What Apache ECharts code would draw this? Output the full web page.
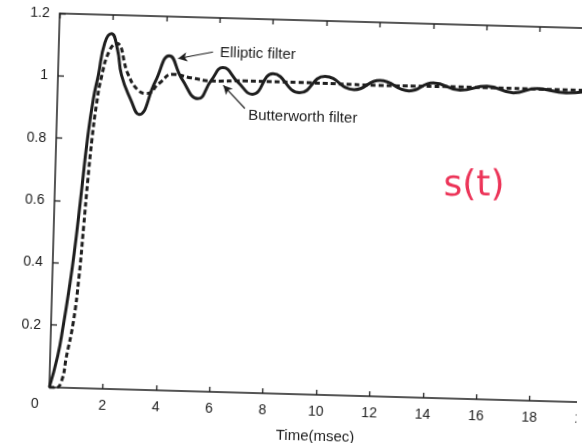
<!DOCTYPE html>
<html>
<head>
<meta charset="utf-8">
<script src="https://cdn.jsdelivr.net/npm/echarts@6.0.0/dist/echarts.min.js"></script>
<style>
  html, body { margin: 0; padding: 0; background: #fff; overflow: hidden; }
  /* the scanned page sits slightly tilted */
  #chart { width: 582px; height: 443px; transform: rotate(1.6deg); transform-origin: 50% 50%; }
</style>
</head>
<body>
<div id="chart"></div>
<script>
// step response (time in msec)
var ellipticT = [0, 0.28, 0.46, 0.63, 0.79, 0.97, 1.17, 1.35, 1.51, 1.72, 1.96, 2.20, 2.38, 2.76, 3.07, 3.65, 4.15, 4.65, 5.26, 5.75, 6.17, 6.75, 7.30, 8.05, 9.06, 10.0, 11.1, 12.06, 13.16, 14.06, 15.07, 16.07, 17.07, 17.95, 19.04, 20];
var ellipticS = [0, 0.10, 0.20, 0.31, 0.43, 0.60, 0.80, 0.93, 1.005, 1.11, 1.14, 1.09, 1.007, 0.928, 0.883, 0.99, 1.074, 1.0, 0.939, 1.0, 1.041, 0.995, 0.958, 1.026, 0.967, 1.022, 0.982, 1.014, 0.983, 1.011, 0.990, 1.005, 0.986, 1.002, 0.991, 1.0];

var butterT = [0, 0.25, 0.45, 0.61, 0.83, 1.00, 1.12, 1.22, 1.34, 1.47, 1.63, 1.90, 2.16, 2.63, 3.00, 3.34, 3.80, 4.30, 5.00, 5.80, 7, 9, 12, 15, 18, 20];
var butterS = [0, 0.0, 0.02, 0.10, 0.21, 0.36, 0.52, 0.66, 0.80, 0.91, 1.0, 1.085, 1.109, 1.01, 0.962, 0.951, 0.985, 1.015, 1.005, 0.997, 1.0, 1.0, 0.998, 1.0, 1.0, 1.0];

var xTicks = [0, 20, 2];      // min, max, step
var yTicks = [0, 1.2, 0.2];

var ink = '#1e1e1e';
var font = 'Liberation Sans';

function zip(a, b) {
    return a.map(function (v, i) { return [v, b[i]]; });
}

var chart = echarts.init(document.getElementById('chart'));

var tickStyle = {color: ink, width: 1.3};
var option = {
    animation: false,
    backgroundColor: '#fff',
    textStyle: {fontFamily: font, color: ink},
    grid: {left: 54, top: 20, width: 534, height: 374, outerBoundsMode: 'none', containLabel: false},
    xAxis: [
        {
            type: 'value', min: xTicks[0], max: xTicks[1], interval: xTicks[2], position: 'bottom',
            axisLine: {show: true, onZero: false, lineStyle: {color: ink, width: 1.5}},
            axisTick: {show: true, inside: true, length: 5, lineStyle: tickStyle},
            splitLine: {show: false},
            axisLabel: {
                margin: 10, fontSize: 14, color: ink, fontFamily: font,
                formatter: function (v) { return v === 0 ? '{z|0}' : String(v); },
                rich: {z: {fontSize: 14, color: ink, fontFamily: font, padding: [0, 28, 4, 0]}}
            },
            name: 'Time(msec)', nameLocation: 'middle', nameGap: 34,
            nameTextStyle: {fontSize: 15, color: ink, fontFamily: font}
        },
        {
            type: 'value', min: xTicks[0], max: xTicks[1], interval: xTicks[2], position: 'top',
            axisLine: {show: true, onZero: false, lineStyle: {color: ink, width: 1.5}},
            axisTick: {show: true, inside: true, length: 5, lineStyle: tickStyle},
            splitLine: {show: false},
            axisLabel: {show: false}
        }
    ],
    yAxis: [
        {
            type: 'value', min: yTicks[0], max: yTicks[1], interval: yTicks[2], position: 'left',
            axisLine: {show: true, onZero: false, lineStyle: {color: ink, width: 1.5}},
            axisTick: {show: true, inside: true, length: 6, lineStyle: tickStyle},
            splitLine: {show: false},
            axisLabel: {
                margin: 10, fontSize: 14, color: ink, fontFamily: font, padding: [5, 0, 0, 0],
                formatter: function (v) { return v === 0 ? '' : String(+v.toFixed(1)); }
            }
        },
        {
            type: 'value', min: yTicks[0], max: yTicks[1], interval: yTicks[2], position: 'right',
            axisLine: {show: true, onZero: false, lineStyle: {color: ink, width: 1.5}},
            axisTick: {show: true, inside: true, length: 6, lineStyle: tickStyle},
            splitLine: {show: false},
            axisLabel: {show: false}
        }
    ],
    series: [
        {
            name: 'Elliptic filter',
            type: 'line',
            data: zip(ellipticT, ellipticS),
            showSymbol: false,
            smooth: 0.5,
            lineStyle: {color: ink, width: 3},
            markLine: {
                silent: true, symbol: ['none', 'arrow'], symbolSize: [7, 9],
                lineStyle: {color: ink, width: 1.2, type: 'solid'},
                label: {show: false},
                data: [[{coord: [5.78, 1.09]}, {coord: [4.48, 1.066]}]]
            },
            markPoint: {
                silent: true, symbol: 'circle', symbolSize: 0,
                label: {show: true, position: 'right', distance: 0, formatter: '{b}', fontSize: 15, color: ink, fontFamily: font},
                data: [{name: 'Elliptic filter', coord: [6.04, 1.087]}]
            }
        },
        {
            name: 'Butterworth filter',
            type: 'line',
            data: zip(butterT, butterS),
            showSymbol: false,
            smooth: 0.5,
            lineStyle: {color: ink, width: 3, type: [5, 3]},
            markLine: {
                silent: true, symbol: ['none', 'arrow'], symbolSize: [7, 9],
                lineStyle: {color: ink, width: 1.2, type: 'solid'},
                label: {show: false},
                data: [[{coord: [7.03, 0.912]}, {coord: [6.2, 0.984]}]]
            },
            markPoint: {
                silent: true, symbol: 'circle', symbolSize: 0,
                label: {show: true, position: 'right', distance: 0, formatter: '{b}', fontSize: 15, color: ink, fontFamily: font},
                data: [{name: 'Butterworth filter', coord: [7.16, 0.89]}]
            }
        }
    ],
    graphic: [
        {
            type: 'text', x: 473, y: 181, rotation: 0.028, silent: true,
            style: {text: 's(t)', fill: '#ec3458', fontSize: 36, fontFamily: 'DejaVu Sans', fontWeight: 'normal', align: 'center', verticalAlign: 'middle'}
        }
    ]
};
chart.setOption(option);
</script>
</body>
</html>
